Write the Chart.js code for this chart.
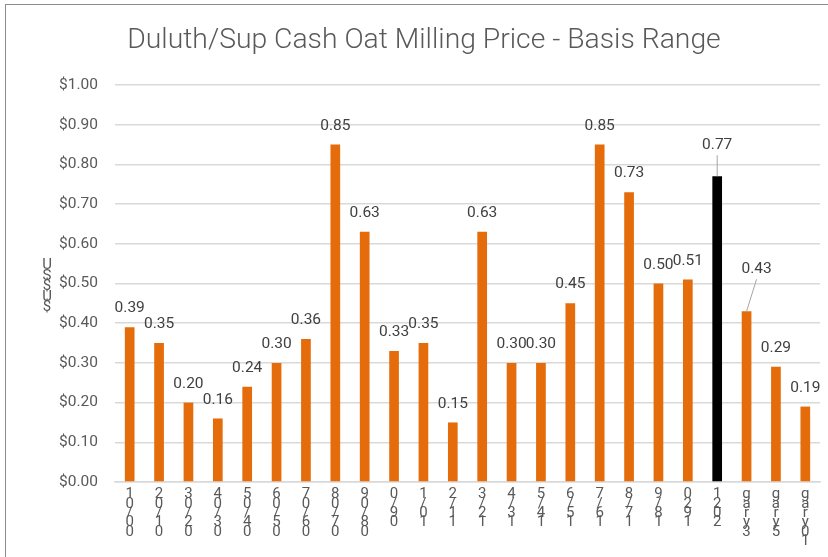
<!DOCTYPE html>
<html>
<head>
<meta charset="utf-8">
<script src="https://cdn.jsdelivr.net/npm/chart.js@4"></script>
<style>
  body { margin: 0; background: #fff; }
  #wrap { position: relative; width: 828px; height: 557px; overflow: hidden; }
  #frame { position: absolute; left: 5px; top: 4px; width: 900px; height: 700px; border: 1px solid #8c8c8c; }
  canvas { position: absolute; left: 0; top: 0; }
</style>
</head>
<body>
<div id="wrap">
  <div id="frame"></div>
  <canvas id="basisChart" width="828" height="557"></canvas>
</div>
<script>
// Category labels, as they show up stacked under each bar
const categories = [
    ['1', '0', '/', '0', '0'],
    ['2', '0', '/', '1', '0'],
    ['3', '0', '/', '2', '0'],
    ['4', '0', '/', '3', '0'],
    ['5', '0', '/', '4', '0'],
    ['6', '0', '/', '5', '0'],
    ['7', '0', '/', '6', '0'],
    ['8', '0', '/', '7', '0'],
    ['9', '0', '/', '8', '0'],
    ['0', '/', '9', '0'],
    ['1', '/', '0', '1'],
    ['2', '/', '1', '1'],
    ['3', '/', '2', '1'],
    ['4', '/', '3', '1'],
    ['5', '/', '4', '1'],
    ['6', '/', '5', '1'],
    ['7', '/', '6', '1'],
    ['8', '/', '7', '1'],
    ['9', '/', '8', '1'],
    ['0', '2', '9', '1'],
    ['1', '2', '0', '2'],
    ['g', 'a', 'r', 'y', '3'],
    ['g', 'a', 'r', 'y', '5'],
    ['g', 'a', 'r', 'y', '0', '1'],
];

// Basis range, US$
const basisValues = [0.39, 0.35, 0.20, 0.16, 0.24, 0.30, 0.36, 0.85, 0.63, 0.33, 0.35, 0.15,
    0.63, 0.30, 0.30, 0.45, 0.85, 0.73, 0.50, 0.51, 0.77, 0.43, 0.29, 0.19];

const highlightIndex = 20; // current season drawn in black

const yTicks = [0, 0.1, 0.2, 0.3, 0.4, 0.5, 0.6, 0.7, 0.8, 0.9, 1.0];
const yTitle = ['U', 'S', '$', 'U', '$'];

const orange = '#E46C0A';
const grey = '#595959';

const barColors = basisValues.map((_, i) => i === highlightIndex ? '#000000' : orange);

// label nudges for the ones Excel moved off the bar (with leader lines)
const labelShift = { 20: { dx: 0, dy: -12 }, 21: { dx: 10, dy: -23 } };

const valueLabels = {
    id: 'valueLabels',
    afterDatasetsDraw(chart) {
        const ctx = chart.ctx;
        const meta = chart.getDatasetMeta(0);
        ctx.save();
        ctx.font = '15.5px Roboto';
        ctx.fillStyle = '#404040';
        ctx.textAlign = 'center';
        ctx.textBaseline = 'bottom';
        meta.data.forEach((bar, i) => {
            const shift = labelShift[i] || { dx: 0, dy: 0 };
            const x = bar.x + shift.dx;
            const y = bar.y - 11 + shift.dy;
            if (labelShift[i]) {
                ctx.strokeStyle = '#a6a6a6';
                ctx.lineWidth = 1;
                ctx.beginPath();
                ctx.moveTo(bar.x, bar.y);
                ctx.lineTo(x, y + 2);
                ctx.stroke();
            }
            ctx.fillText(basisValues[i].toFixed(2), x, y);
        });
        ctx.restore();
    }
};

// Excel stacks the axis title one character per line
const stackedYTitle = {
    id: 'stackedYTitle',
    afterDraw(chart) {
        const ctx = chart.ctx;
        ctx.save();
        ctx.font = '15px Roboto';
        ctx.fillStyle = grey;
        ctx.textAlign = 'center';
        ctx.textBaseline = 'middle';
        const mid = (chart.chartArea.top + chart.chartArea.bottom) / 2;
        yTitle.forEach((ch, i) => {
            ctx.fillText(ch, 47, mid - 18 + i * 10.5);
        });
        ctx.restore();
    }
};

const ctx = document.getElementById('basisChart').getContext('2d');
window.basisChart = new Chart(ctx, {
    type: 'bar',
    data: {
        labels: categories,
        datasets: [{
            data: basisValues,
            backgroundColor: barColors,
            borderWidth: 0,
            barPercentage: 0.33,
            categoryPercentage: 1.0,
        }],
    },
    options: {
        responsive: false,
        animation: false,
        layout: { padding: { left: 28, right: 8, top: 0, bottom: 0 } },
        plugins: {
            legend: { display: false },
            tooltip: { enabled: false },
            title: {
                display: true,
                text: 'Duluth/Sup Cash Oat Milling Price - Basis Range',
                color: grey,
                font: { family: 'Roboto', size: 28.3, weight: 300 },
                padding: { top: 24, bottom: 27 },
            },
        },
        scales: {
            x: {
                grid: { display: false, drawTicks: false },
                border: { color: '#d9d9d9', width: 1.5 },
                ticks: {
                    autoSkip: false,
                    minRotation: 0,
                    maxRotation: 0,
                    padding: 8,
                    color: grey,
                    font: { family: 'Roboto', size: 15, lineHeight: 0.62 },
                },
                afterFit(scale) { scale.height = 75; },
            },
            y: {
                min: 0,
                max: 1.0,
                afterBuildTicks(scale) { scale.ticks = yTicks.map(v => ({ value: v })); },
                grid: { color: '#d9d9d9', lineWidth: 1.5, drawTicks: false },
                border: { display: false },
                ticks: {
                    padding: 17,
                    color: grey,
                    font: { family: 'Roboto', size: 15.5 },
                    callback: (v) => '$' + Number(v).toFixed(2),
                },
                afterFit(scale) { scale.width = 87; },
            },
        },
    },
    plugins: [valueLabels, stackedYTitle],
});
</script>
</body>
</html>
